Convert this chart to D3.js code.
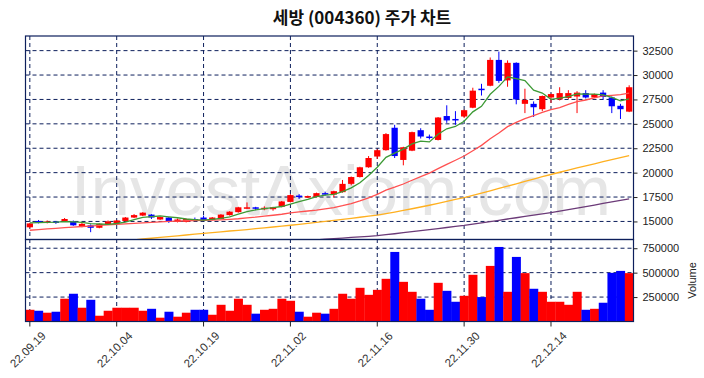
<!DOCTYPE html>
<html>
<head>
<meta charset="utf-8">
<script src="https://cdn.jsdelivr.net/npm/d3@7"></script>
<style>
  body { margin: 0; background: #fff; }
</style>
</head>
<body>
<div id="chart"></div>
<script>
// daily candles, 22.09.19 ~ 22.12.27 (70 trading days)
const openP = [14400,15050,14850,15000,15000,15000,14500,14600,14350,14700,
  14800,15050,15400,15600,15700,15200,15400,14950,14950,15250,
  15400,15150,15250,15650,15950,16350,16450,16250,16250,16500,
  17000,17650,17450,17500,17900,17750,18000,18850,19550,20550,
  21650,22300,24600,21300,22250,24350,23700,23350,25800,25500,
  25750,26650,28600,28900,31550,29450,31250,27050,27050,26500,
  27700,27500,27650,27800,28150,27700,28200,27700,26850,26250];
const highP = [14850,15150,15100,15050,15350,15100,14850,14700,14800,15100,
  15150,15450,15750,15950,15750,15500,15450,15300,15300,15400,
  15600,15450,15750,16050,16500,16950,16500,16550,16500,17100,
  17800,17800,17650,17950,18050,18150,19250,19600,20600,21700,
  22400,24050,24900,22650,24200,24550,23900,25700,26900,26300,
  26450,28700,29100,31800,32400,31500,31300,28600,27300,27900,
  28100,28750,28450,28350,28450,28100,28450,27800,27050,28950];
const lowP = [14350,14800,14800,14750,14950,14550,14400,13900,14300,14650,
  14750,15000,15350,15550,15250,15150,14850,14900,14900,15050,
  15100,15100,15200,15600,15900,16300,16150,16150,16100,16450,
  16950,17300,17400,17450,17650,17450,17950,18700,19500,20500,
  21400,22250,21500,20750,22200,23500,23400,23300,25100,24900,
  25600,26600,27900,28850,29200,28800,27000,26100,25700,26300,
  27150,27400,27550,26100,27600,27650,27500,26100,25500,26200];
const closeP = [14800,14950,15000,14950,15250,14600,14750,14350,14750,15000,
  15100,15400,15650,15900,15400,15450,14950,15200,15250,15100,
  15150,15400,15700,16000,16450,16450,16300,16400,16450,17050,
  17700,17500,17600,17900,17800,18100,18850,19550,20550,21500,
  22300,23950,21700,22600,24150,23700,23600,25650,25350,25350,
  26400,28400,28450,31550,29400,31250,27500,27450,26700,27850,
  28050,28150,28150,28200,27700,28050,27750,26800,26500,28750];
const volume = [120000,110000,90000,100000,233000,284000,141000,222000,59000,110000,
  141000,141000,141000,110000,130000,39000,100000,49000,90000,120000,
  120000,69000,171000,110000,233000,171000,80000,120000,130000,233000,
  212000,100000,49000,90000,80000,130000,284000,233000,345000,273000,
  324000,437000,712000,406000,304000,233000,120000,396000,314000,202000,
  263000,478000,250000,569000,763000,304000,661000,495000,335000,304000,
  202000,202000,171000,304000,120000,130000,192000,498000,518000,495000];

// moving averages
const ma5 = [14850,14880,14900,14920,14990,14950,14910,14780,14740,14690,
  14790,14920,15180,15410,15490,15560,15470,15380,15250,15190,
  15130,15220,15320,15470,15740,16000,16180,16320,16410,16530,
  16780,17020,17260,17550,17700,17780,18050,18440,18970,19710,
  20550,21570,22000,22410,22940,23220,23150,23940,24490,24730,
  25270,26230,26790,28030,28840,29810,29630,29430,28460,28150,
  27510,27640,27780,28080,28050,28050,27970,27700,27360,27570];
const ma20 = [14100,14170,14230,14300,14360,14420,14480,14530,14590,14640,
  14700,14750,14800,14860,14910,14960,15000,15040,15070,15090,
  15108,15130,15165,15218,15278,15370,15448,15550,15635,15738,
  15868,15973,16070,16170,16290,16423,16618,16835,17100,17420,
  17778,18205,18505,18835,19220,19583,19948,20410,20855,21270,
  21705,22250,22793,23475,24055,24713,25145,25540,25848,26165,
  26453,26663,26985,27265,27443,27660,27868,27925,27983,28153];
const ma60 = [null,null,null,null,null,null,null,null,null,null,
  null,13030,13110,13200,13280,13360,13440,13530,13610,13700,
  13780,13860,13940,14020,14090,14170,14260,14350,14430,14520,
  14610,14710,14800,14900,15000,15100,15210,15320,15430,15540,
  15650,15800,15960,16130,16300,16480,16660,16850,17050,17250,
  17450,17680,17910,18140,18380,18620,18860,19100,19340,19580,
  19810,20040,20260,20480,20700,20910,21120,21330,21540,21750];
const ma120 = [null,null,null,null,null,null,null,null,null,null,
  null,null,null,null,null,null,null,null,null,null,
  null,null,null,null,null,null,null,null,null,null,
  12950,13000,13060,13120,13180,13240,13300,13360,13420,13480,
  13540,13640,13740,13850,13950,14060,14170,14270,14380,14490,
  14600,14730,14860,14990,15120,15250,15380,15510,15640,15770,
  15900,16050,16200,16360,16520,16680,16840,17000,17160,17320];

const tickIdx = [0, 10, 20, 30, 40, 50, 60];
const tickLabels = ["22.09.19", "22.10.04", "22.10.19", "22.11.02", "22.11.16", "22.11.30", "22.12.14"];
const priceTicks = [15000, 17500, 20000, 22500, 25000, 27500, 30000, 32500];
const volTicks = [250000, 500000, 750000];

const width = 704, height = 378;
const plotL = 25.5, plotR = 633.5;
const priceTop = 36, priceBottom = 239.5, volBottom = 321.5;
const navy = "#0d1f5c";
const upColor = "#ff0000", downColor = "#0000ff";

const svg = d3.select("#chart").append("svg")
  .attr("width", width)
  .attr("height", height)
  .style("font-family", "'Liberation Sans', Arial, sans-serif");

const idx = d3.range(closeP.length);

// scales
const x = d3.scaleLinear().domain([-0.5, closeP.length - 0.5]).range([plotL, plotR]);
const step = x(1) - x(0);
const yP = d3.scaleLinear().domain([13150, 34000]).range([priceBottom, priceTop]);
const yV = d3.scaleLinear().domain([0, d3.max(volume) * 1.1]).range([volBottom, priceBottom]);

svg.append("defs").append("clipPath").attr("id", "clipPrice")
  .append("rect")
  .attr("x", plotL).attr("y", priceTop)
  .attr("width", plotR - plotL).attr("height", priceBottom - priceTop);

// title
svg.append("text")
  .attr("x", width / 2 + 10)
  .attr("y", 24)
  .attr("text-anchor", "middle")
  .attr("font-family", "'Noto Sans CJK KR', sans-serif")
  .attr("font-size", "17px")
  .attr("font-weight", "bold")
  .attr("fill", "#111")
  .text("세방 (004360) 주가 차트");

// watermark
svg.append("text")
  .attr("x", 341)
  .attr("y", 215)
  .attr("text-anchor", "middle")
  .attr("font-size", "71px")
  .attr("fill", "#e6e6e6")
  .text("InvestAxiom.com");

// grid
const grid = svg.append("g")
  .attr("stroke", navy)
  .attr("stroke-width", 1)
  .attr("stroke-dasharray", "4,3");

grid.selectAll("line.v")
  .data(tickIdx)
  .join("line")
  .attr("x1", d => x(d)).attr("x2", d => x(d))
  .attr("y1", priceTop).attr("y2", volBottom);

grid.selectAll("line.hp")
  .data(priceTicks)
  .join("line")
  .attr("class", "hp")
  .attr("x1", plotL).attr("x2", plotR)
  .attr("y1", d => yP(d)).attr("y2", d => yP(d));

grid.selectAll("line.hv")
  .data(volTicks)
  .join("line")
  .attr("class", "hv")
  .attr("x1", plotL).attr("x2", plotR)
  .attr("y1", d => yV(d)).attr("y2", d => yV(d));

// volume bars
svg.append("g").selectAll("rect")
  .data(idx)
  .join("rect")
  .attr("x", i => x(i) - step / 2)
  .attr("width", step + 0.3)
  .attr("y", i => yV(volume[i]))
  .attr("height", i => yV(0) - yV(volume[i]))
  .attr("fill", i => closeP[i] >= openP[i] ? upColor : downColor);

// candles
const candles = svg.append("g").attr("clip-path", "url(#clipPrice)");
const bodyW = step * 0.72;

candles.selectAll("line")
  .data(idx)
  .join("line")
  .attr("x1", i => x(i)).attr("x2", i => x(i))
  .attr("y1", i => yP(highP[i])).attr("y2", i => yP(lowP[i]))
  .attr("stroke", i => closeP[i] >= openP[i] ? upColor : downColor)
  .attr("stroke-width", 1);

candles.selectAll("rect")
  .data(idx)
  .join("rect")
  .attr("x", i => x(i) - bodyW / 2)
  .attr("width", bodyW)
  .attr("y", i => yP(Math.max(openP[i], closeP[i])))
  .attr("height", i => Math.max(1.5, Math.abs(yP(openP[i]) - yP(closeP[i]))))
  .attr("fill", i => closeP[i] >= openP[i] ? upColor : downColor);

// moving average lines
const maLines = [
  { values: ma120, color: "#6b3a78" },
  { values: ma60, color: "#ffb020" },
  { values: ma20, color: "#ff5050" },
  { values: ma5, color: "#3d9a35" }
];

const line = d3.line()
  .defined(d => d[1] != null)
  .x(d => x(d[0]))
  .y(d => yP(d[1]));

const maG = svg.append("g").attr("clip-path", "url(#clipPrice)");
maLines.forEach(m => {
  maG.append("path")
    .datum(m.values.map((v, i) => [i, v]))
    .attr("d", line)
    .attr("fill", "none")
    .attr("stroke", m.color)
    .attr("stroke-width", 1.3);
});

// frames
const frame = svg.append("g").attr("fill", "none").attr("stroke", navy).attr("stroke-width", 1.2);
frame.append("rect")
  .attr("x", plotL).attr("y", priceTop)
  .attr("width", plotR - plotL).attr("height", priceBottom - priceTop);
frame.append("rect")
  .attr("x", plotL).attr("y", priceBottom)
  .attr("width", plotR - plotL).attr("height", volBottom - priceBottom);

// right axes (no thousands separator)
const axisP = d3.axisRight(yP).tickValues(priceTicks).tickFormat(d3.format("d")).tickSize(4).tickPadding(5);
svg.append("g")
  .attr("transform", `translate(${plotR}, 0)`)
  .call(axisP)
  .call(g => g.select(".domain").remove())
  .call(g => g.selectAll("text").attr("font-size", "11px").attr("fill", "#222"))
  .call(g => g.selectAll("line").attr("stroke", "#222"));

const axisV = d3.axisRight(yV).tickValues(volTicks).tickFormat(d3.format("d")).tickSize(4).tickPadding(5);
svg.append("g")
  .attr("transform", `translate(${plotR}, 0)`)
  .call(axisV)
  .call(g => g.select(".domain").remove())
  .call(g => g.selectAll("text").attr("font-size", "11px").attr("fill", "#222"))
  .call(g => g.selectAll("line").attr("stroke", "#222"));

svg.append("text")
  .attr("transform", `translate(692, ${(priceBottom + volBottom) / 2}) rotate(-90)`)
  .attr("text-anchor", "middle")
  .attr("dominant-baseline", "central")
  .attr("font-size", "11px")
  .attr("fill", "#222")
  .text("Volume");

// x axis: ticks + rotated date labels
const xg = svg.append("g");
xg.selectAll("line")
  .data(tickIdx)
  .join("line")
  .attr("x1", d => x(d)).attr("x2", d => x(d))
  .attr("y1", volBottom).attr("y2", volBottom + 5)
  .attr("stroke", "#222");

xg.selectAll("text")
  .data(tickIdx)
  .join("text")
  .attr("transform", d => `translate(${x(d) - 2}, ${volBottom + 28}) rotate(-45)`)
  .attr("text-anchor", "middle")
  .attr("dominant-baseline", "central")
  .attr("font-size", "11.5px")
  .attr("fill", "#333")
  .text((d, i) => tickLabels[i]);
</script>
</body>
</html>
